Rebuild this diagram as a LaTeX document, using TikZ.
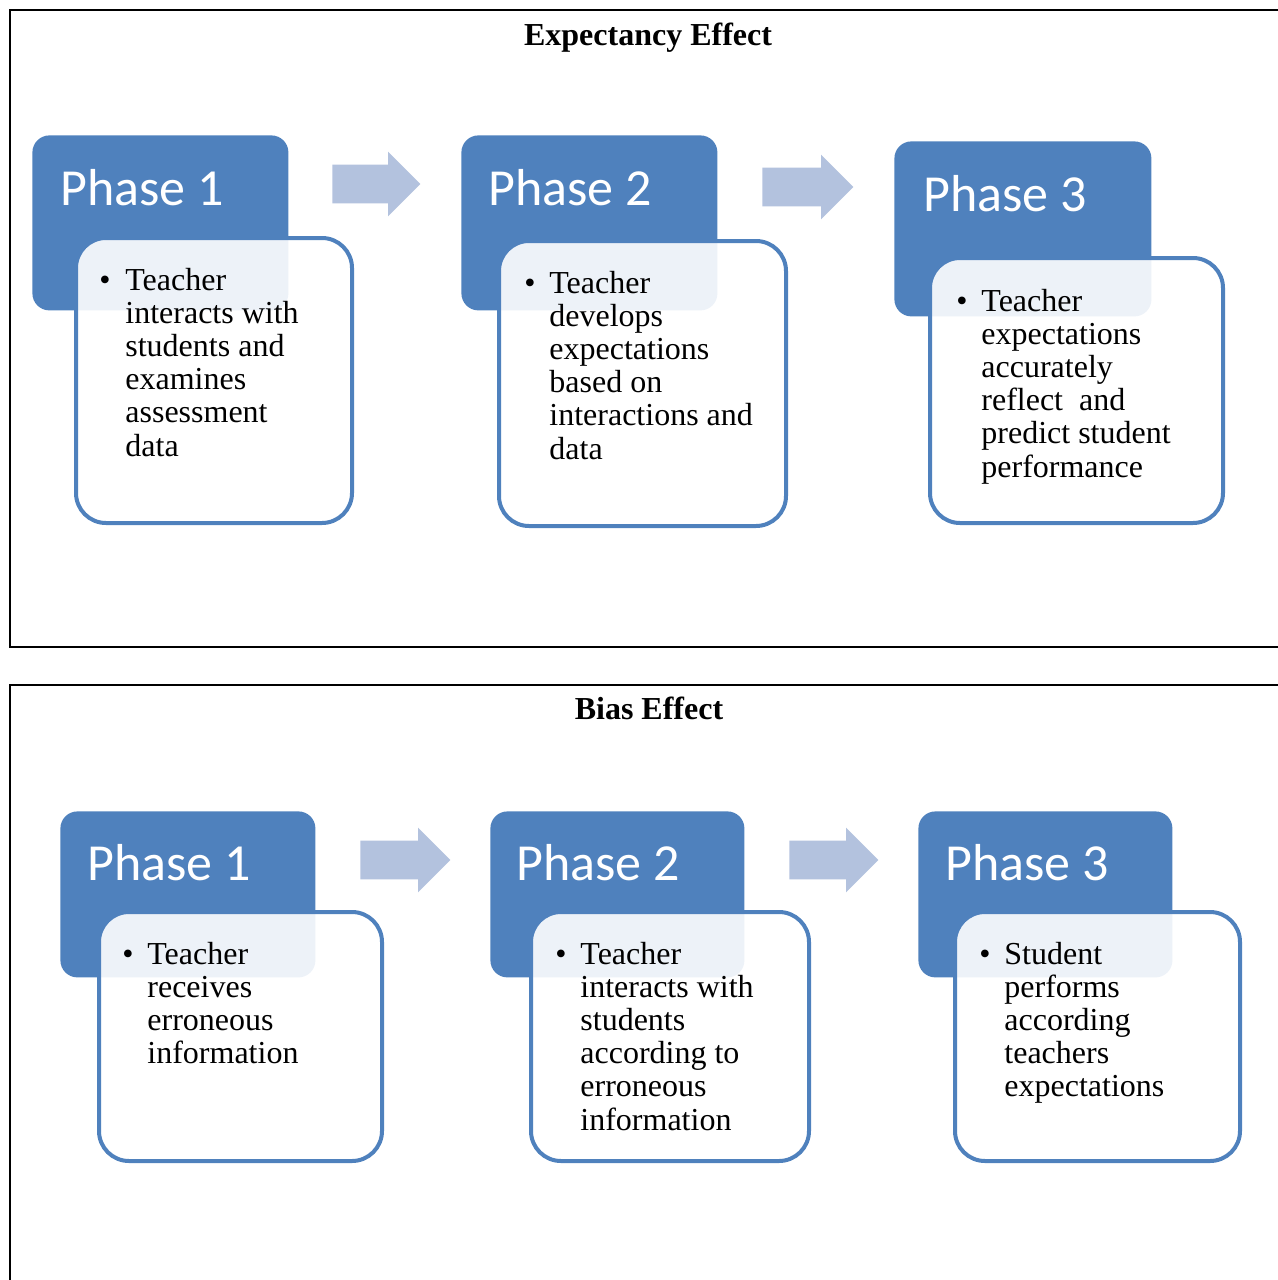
\documentclass[tikz,border=0pt]{standalone}
\usepackage{fontspec}
\setmainfont{Liberation Serif}
\newfontfamily\phasefont{Carlito}
\usetikzlibrary{shapes.arrows}

\definecolor{phaseblue}{RGB}{79,129,189}
\definecolor{arrowblue}{RGB}{179,194,222}

\tikzset{
  phasebox/.style={fill=phaseblue, rounded corners=8.5pt, anchor=north west, inner sep=0pt},
  phasetitle/.style={text=white, font=\phasefont\fontsize{26}{30}\selectfont, anchor=base west, inner sep=0pt},
  infobox/.style={draw=phaseblue, line width=2pt, fill=white, fill opacity=0.9, rounded corners=15pt, anchor=north west, inner sep=0pt},
  infotext/.style={font=\fontsize{16}{16.6}\selectfont, anchor=base west, inner sep=0pt},
  bulletmark/.style={font=\fontsize{16}{16.6}\selectfont, anchor=base, inner sep=0pt},
  flowarrow/.style={single arrow, fill=arrowblue, minimum height=44pt, minimum width=32pt, single arrow head extend=6.5pt, inner xsep=0pt, inner ysep=9.5pt, anchor=tail},
  heading/.style={font=\bfseries\fontsize{16}{19}\selectfont, anchor=base, inner sep=0pt}
}

\begin{document}
\begin{tikzpicture}[x=0.5pt,y=-0.5pt]
\useasboundingbox (0,0) rectangle (1278,1280);

\draw[line width=1pt] (10,10) rectangle (1300,647);
\draw[line width=1pt] (10,685) rectangle (1300,1300);

\node[heading] (expect) at (648,45) {Expectancy Effect};
\node[heading] (bias) at (649,719) {Bias Effect};

% expectancy effect
\node[phasebox, minimum width=128pt, minimum height=87.5pt] (ep1) at (32,135) {};
\node[phasetitle] (ept1) at (60,205) {Phase 1};
\node[infobox, minimum width=138pt, minimum height=142.5pt] (eb1) at (74,236) {};
\node[bulletmark] (eu1) at (105,290) {\textbullet};
\node[infotext] (ex1) at (125,290) {\begin{tabular}[t]{@{}l@{}}Teacher\\interacts with\\students and\\examines\\assessment\\data\end{tabular}};

\node[phasebox, minimum width=128pt, minimum height=87.5pt] (ep2) at (461,135) {};
\node[phasetitle] (ept2) at (488,205) {Phase 2};
\node[infobox, minimum width=143.5pt, minimum height=142.5pt] (eb2) at (497,239) {};
\node[bulletmark] (eu2) at (530,293) {\textbullet};
\node[infotext] (ex2) at (549,293) {\begin{tabular}[t]{@{}l@{}}Teacher\\develops\\expectations\\based on\\interactions and\\data\end{tabular}};

\node[phasebox, minimum width=128.5pt, minimum height=87.5pt] (ep3) at (894,141) {};
\node[phasetitle] (ept3) at (923,211) {Phase 3};
\node[infobox, minimum width=146.5pt, minimum height=132.5pt] (eb3) at (928,256) {};
\node[bulletmark] (eu3) at (962,311) {\textbullet};
\node[infotext] (ex3) at (981,311) {\begin{tabular}[t]{@{}l@{}}Teacher\\expectations\\accurately\\reflect\ \ and\\predict student\\performance\end{tabular}};

\node[flowarrow] (ea1) at (332,184) {};
\node[flowarrow, minimum height=45.5pt] (ea2) at (762,187) {};

% bias effect
\node[phasebox, minimum width=127.5pt, minimum height=83pt] (bp1) at (60,811) {};
\node[phasetitle] (bpt1) at (87,880) {Phase 1};
\node[infobox, minimum width=141.5pt, minimum height=124.5pt] (bb1) at (97,910) {};
\node[bulletmark] (bu1) at (128,964) {\textbullet};
\node[infotext] (bx1) at (147,964) {\begin{tabular}[t]{@{}l@{}}Teacher\\receives\\erroneous\\information\end{tabular}};

\node[phasebox, minimum width=127pt, minimum height=83pt] (bp2) at (490,811) {};
\node[phasetitle] (bpt2) at (516,880) {Phase 2};
\node[infobox, minimum width=139pt, minimum height=124.5pt] (bb2) at (529,910) {};
\node[bulletmark] (bu2) at (561,964) {\textbullet};
\node[infotext] (bx2) at (580,964) {\begin{tabular}[t]{@{}l@{}}Teacher\\interacts with\\students\\according to\\erroneous\\information\end{tabular}};

\node[phasebox, minimum width=127pt, minimum height=83pt] (bp3) at (918,811) {};
\node[phasetitle] (bpt3) at (945,880) {Phase 3};
\node[infobox, minimum width=142.5pt, minimum height=124.5pt] (bb3) at (953,910) {};
\node[bulletmark] (bu3) at (985,964) {\textbullet};
\node[infotext] (bx3) at (1004,964) {\begin{tabular}[t]{@{}l@{}}Student\\performs\\according\\teachers\\expectations\end{tabular}};

\node[flowarrow, minimum height=45pt] (ba1) at (360,860) {};
\node[flowarrow, minimum height=44.5pt] (ba2) at (789,860) {};
\end{tikzpicture}
\end{document}
